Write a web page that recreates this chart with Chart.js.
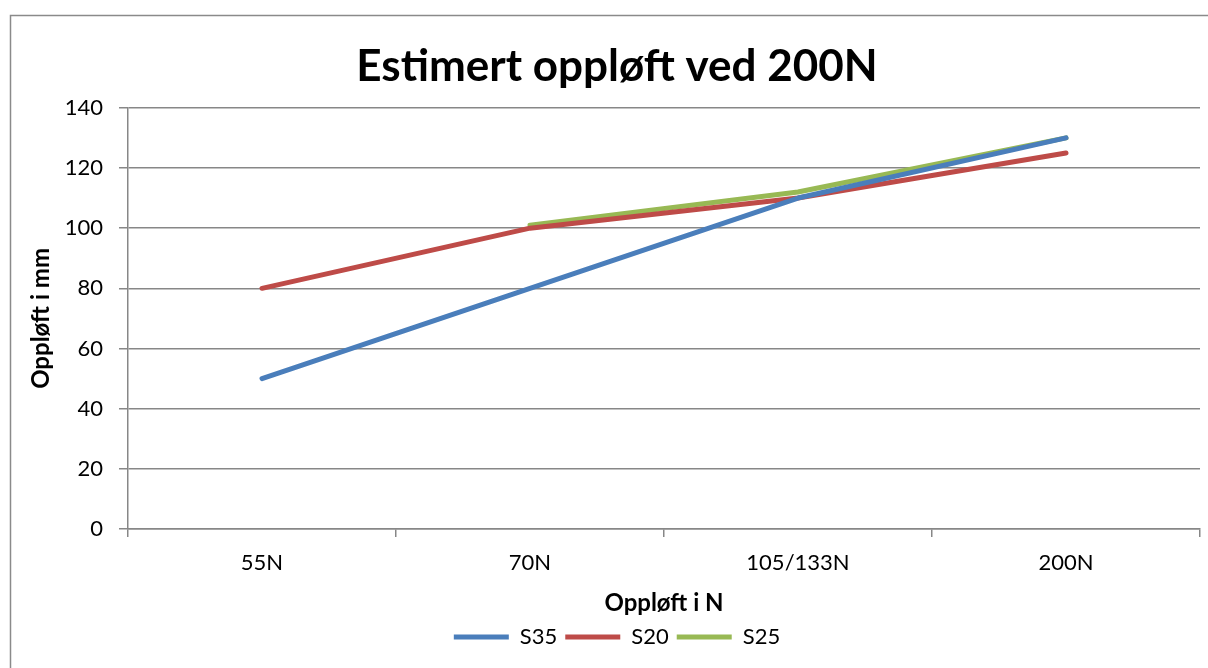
<!DOCTYPE html>
<html>
<head>
<meta charset="utf-8">
<script src="https://cdn.jsdelivr.net/npm/chart.js@4"></script>
<style>
  html, body { margin: 0; padding: 0; background: #fff; }
  #wrap { width: 1208px; height: 668px; }
</style>
</head>
<body>
<div id="wrap"><canvas id="chart" width="1208" height="668"></canvas></div>
<script>
const categories = ['55N', '70N', '105/133N', '200N'];
const s35 = [50, 80, 110, 130];
const s20 = [80, 100, 110, 125];
const s25 = [null, 101, 112, 130];
const yMin = 0, yMax = 140, yStep = 20;

const FONT = 'Lato, "Liberation Sans", sans-serif';
const GRID = '#878787';

// white background and the frame around the chart
const framePlugin = {
    id: 'frame',
    beforeDraw(chart) {
        const ctx = chart.ctx;
        ctx.save();
        ctx.fillStyle = '#fff';
        ctx.fillRect(0, 0, chart.width, chart.height);
        ctx.strokeStyle = '#8a8a8a';
        ctx.lineWidth = 1.5;
        ctx.beginPath();
        ctx.moveTo(10.5, chart.height);
        ctx.lineTo(10.5, 15.5);
        ctx.lineTo(chart.width, 15.5);
        ctx.stroke();
        ctx.restore();
    }
};

const ctx = document.getElementById('chart').getContext('2d');
new Chart(ctx, {
    type: 'line',
    data: {
        labels: categories,
        datasets: [{
            label: 'S35',
            data: s35,
            borderColor: '#4A7EBB',
            backgroundColor: '#4A7EBB'
        }, {
            label: 'S20',
            data: s20,
            borderColor: '#BE4B48',
            backgroundColor: '#BE4B48'
        }, {
            label: 'S25',
            data: s25,
            borderColor: '#98B954',
            backgroundColor: '#98B954'
        }]
    },
    options: {
        responsive: false,
        animation: false,
        datasets: {
            line: {
                borderWidth: 5,
                tension: 0,
                pointRadius: 0,
                borderCapStyle: 'round',
                borderJoinStyle: 'round'
            }
        },
        layout: { padding: { left: 34, right: 8, top: 0, bottom: 10 } },
        plugins: {
            title: {
                display: true,
                text: 'Estimert oppløft ved 200N',
                color: '#000',
                font: { family: FONT, size: 44, weight: 'bold' },
                padding: { top: 40, bottom: 15 }
            },
            legend: {
                position: 'bottom',
                labels: {
                    usePointStyle: true,
                    pointStyle: 'line',
                    pointStyleWidth: 55,
                    color: '#000',
                    font: { family: FONT, size: 22 },
                    padding: 8
                }
            },
            tooltip: { enabled: false }
        },
        scales: {
            x: {
                offset: true,
                grid: {
                    offset: true,
                    drawOnChartArea: false,
                    color: GRID,
                    lineWidth: 1.5,
                    tickLength: 8
                },
                border: { color: GRID, width: 1.5 },
                ticks: {
                    color: '#000',
                    font: { family: FONT, size: 22 },
                    padding: 13
                },
                title: {
                    display: true,
                    text: 'Oppløft i N',
                    color: '#000',
                    font: { family: FONT, size: 24, weight: 'bold' },
                    padding: { top: 0, bottom: 0 }
                },
                afterFit(scale) { scale.height = 89; }
            },
            y: {
                min: yMin,
                max: yMax,
                ticks: {
                    stepSize: yStep,
                    color: '#000',
                    font: { family: FONT, size: 22 },
                    padding: 16
                },
                grid: {
                    color: GRID,
                    lineWidth: 1.5,
                    tickLength: 9
                },
                border: { color: GRID, width: 1.5 },
                title: {
                    display: true,
                    text: 'Oppløft i mm',
                    color: '#000',
                    font: { family: FONT, size: 24, weight: 'bold', lineHeight: 1 },
                    padding: { top: -5, bottom: 0 }
                },
                afterFit(scale) { scale.width = 94; }
            }
        }
    },
    plugins: [framePlugin]
});
</script>
</body>
</html>
